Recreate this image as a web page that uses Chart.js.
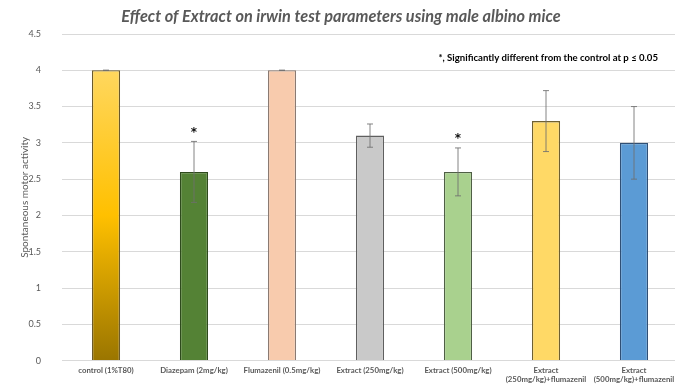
<!DOCTYPE html>
<html>
<head>
<meta charset="utf-8">
<script src="https://cdn.jsdelivr.net/npm/chart.js@4.4.1/dist/chart.umd.min.js"></script>
<style>
  html, body { margin: 0; padding: 0; background: #fff; overflow: hidden; }
  #wrap { position: relative; width: 680px; height: 387px; }
</style>
</head>
<body>
<div id="wrap"><canvas id="chart"></canvas></div>
<script>
// Groups and their mean spontaneous motor activity scores with SD
const categories = [
  'control (1%T80)',
  'Diazepam (2mg/kg)',
  'Flumazenil (0.5mg/kg)',
  'Extract (250mg/kg)',
  'Extract (500mg/kg)',
  ['Extract', '(250mg/kg)+flumazenil'],
  ['Extract', '(500mg/kg)+flumazenil']
];
const meanValues = [4, 2.6, 4, 3.1, 2.6, 3.3, 3.0];
const sdValues = [0, 0.42, 0, 0.16, 0.33, 0.42, 0.5];
const significant = [false, true, false, false, true, false, false];
const yTicks = [0, 0.5, 1, 1.5, 2, 2.5, 3, 3.5, 4, 4.5];

const titleText = 'Effect of Extract on irwin test parameters using male albino mice';
const noteText = '*, Significantly different from the control at p \u2264 0.05';

const solidColors = [null, '#548235', '#F8CBAD', '#C9C9C9', '#A9D18E', '#FFD966', '#5B9BD5'];
const borderColors = ['#6b5a2a', '#2e4a1c', '#8a7a72', '#5f5f5f', '#4f5f45', '#6f6030', '#2f4f75'];

// Control bar uses a vertical gold gradient
function barFill(ctx) {
  const i = ctx.dataIndex;
  if (i !== 0) return solidColors[i];
  const area = ctx.chart.chartArea;
  if (!area) return '#FFC000';
  const y = ctx.chart.scales.y;
  const top = y.getPixelForValue(meanValues[0]);
  const g = ctx.chart.ctx.createLinearGradient(0, top, 0, y.getPixelForValue(0));
  g.addColorStop(0, '#FFD75E');
  g.addColorStop(0.5, '#FFC000');
  g.addColorStop(1, '#9A7500');
  return g;
}

const overlay = {
  id: 'overlay',
  afterDatasetsDraw(chart) {
    const ctx = chart.ctx;
    const y = chart.scales.y;
    const meta = chart.getDatasetMeta(0);
    ctx.save();
    meta.data.forEach((bar, i) => {
      const x = bar.x;
      const hi = y.getPixelForValue(meanValues[i] + sdValues[i]);
      const lo = y.getPixelForValue(meanValues[i] - sdValues[i]);
      ctx.strokeStyle = 'rgba(110,110,110,0.85)';
      ctx.lineWidth = 1;
      ctx.beginPath();
      ctx.moveTo(x, hi); ctx.lineTo(x, lo);
      ctx.moveTo(x - 3, hi); ctx.lineTo(x + 3, hi);
      ctx.moveTo(x - 3, lo); ctx.lineTo(x + 3, lo);
      ctx.stroke();
      if (significant[i]) {
        ctx.fillStyle = '#111';
        ctx.font = 'bold 12px "DejaVu Sans"';
        ctx.textAlign = 'center';
        ctx.textBaseline = 'middle';
        ctx.fillText('*', x, hi - 9);
      }
    });
    ctx.restore();
  },
  afterDraw(chart) {
    const ctx = chart.ctx;
    ctx.save();
    ctx.fillStyle = '#595959';
    ctx.font = 'italic bold 16.3px Lato';
    ctx.textAlign = 'center';
    ctx.textBaseline = 'middle';
    ctx.fillText(titleText, 341, 17);
    ctx.fillStyle = '#000';
    ctx.font = 'bold 9.6px Lato';
    ctx.textAlign = 'right';
    ctx.fillText(noteText, 658, 58);
    ctx.restore();
  }
};

new Chart(document.getElementById('chart'), {
  type: 'bar',
  data: {
    labels: categories,
    datasets: [{
      data: meanValues,
      backgroundColor: barFill,
      borderColor: borderColors,
      borderWidth: 1.3,
      barPercentage: 0.32,
      categoryPercentage: 1
    }]
  },
  options: {
    responsive: true,
    maintainAspectRatio: false,
    animation: false,
    devicePixelRatio: 1,
    layout: { padding: { top: 34, right: 2, left: 0, bottom: 0 } },
    plugins: { legend: { display: false }, tooltip: { enabled: false }, title: { display: false } },
    scales: {
      x: {
        grid: { display: false, drawTicks: false },
        border: { display: false },
        ticks: {
          color: '#595959',
          font: { family: 'Lato', size: 7.8, weight: 'bold' },
          padding: 5,
          maxRotation: 0,
          autoSkip: false
        },
        afterFit(s) { s.height = 25; }
      },
      y: {
        min: 0,
        max: 4.5,
        afterBuildTicks(s) { s.ticks = yTicks.map(v => ({ value: v })); },
        grid: { color: '#D9D9D9', drawTicks: false, lineWidth: 1 },
        border: { display: false },
        ticks: {
          color: '#595959',
          font: { family: 'Lato', size: 9 },
          padding: 21,
          callback: (v) => String(v)
        },
        title: {
          display: true,
          text: 'Spontaneous motor activity',
          color: '#595959',
          font: { family: 'Lato', size: 10 },
          padding: { top: 19, bottom: 0 }
        },
        afterFit(s) { s.width = 62; }
      }
    }
  },
  plugins: [overlay]
});
</script>
</body>
</html>
